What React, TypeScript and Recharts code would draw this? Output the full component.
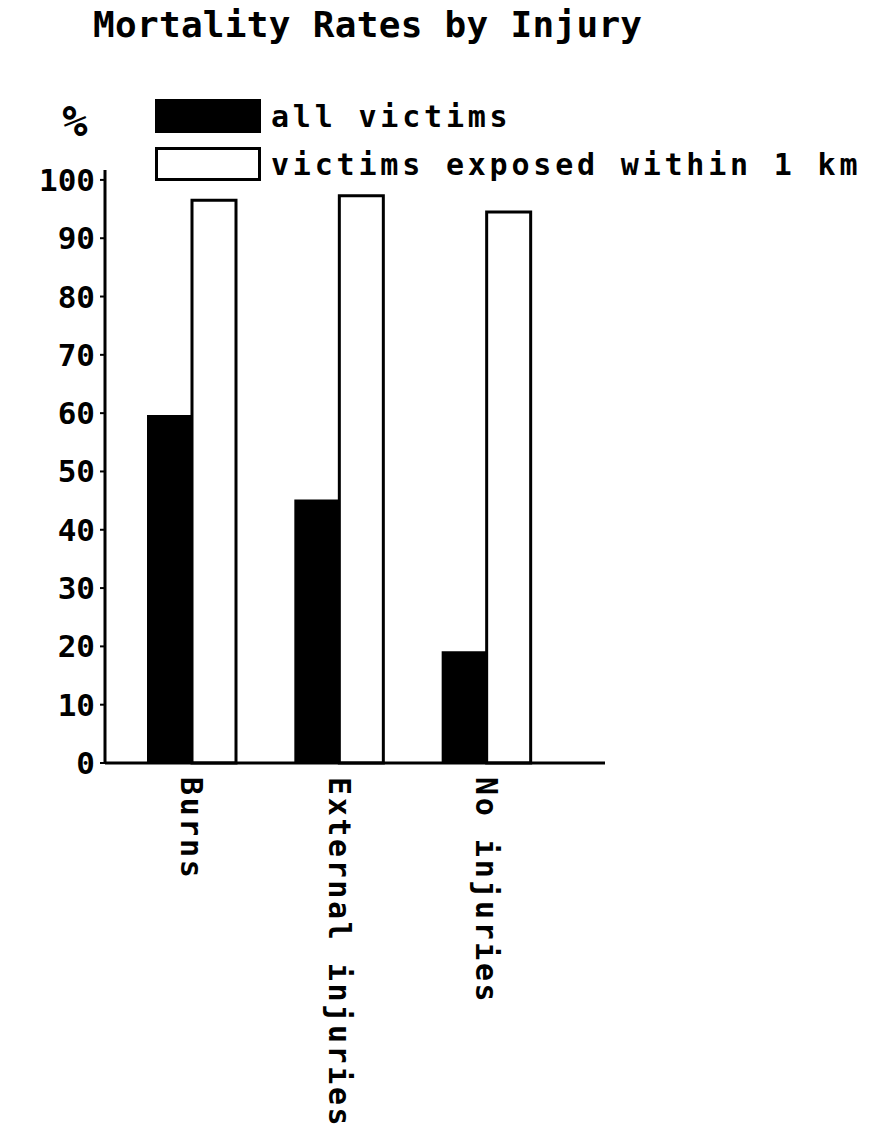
import React from "react";
import { BarChart, Bar, XAxis, YAxis, Legend } from "recharts";

const injuries = ["Burns", "External injuries", "No injuries"];
const allVictims = [59.5, 45, 19];
const within1km = [96.5, 97.3, 94.5];
const yTicks = [0, 10, 20, 30, 40, 50, 60, 70, 80, 90, 100];

const data = injuries.map((name, i) => ({
  name,
  all: allVictims[i],
  near: within1km[i],
}));

const FONT = "'DejaVu Sans Mono', monospace";

function RotatedTick({ x, y, payload }: any) {
  return (
    <text
      x={x}
      y={y + 6}
      transform={`rotate(90, ${x}, ${y + 6})`}
      textAnchor="start"
      dominantBaseline="central"
      fontFamily={FONT}
      fontWeight="bold"
      fontSize={30}
      letterSpacing={2.6}
      fill="#000"
    >
      {payload.value}
    </text>
  );
}

function PercentLabel({ viewBox }: any) {
  return (
    <text
      x={viewBox.x + 75}
      y={viewBox.y - 34}
      textAnchor="middle"
      fontFamily={FONT}
      fontWeight="bold"
      fontStyle="italic"
      fontSize={42}
      fill="#000"
    >
      %
    </text>
  );
}

function LegendBoxes() {
  const items = [
    { label: "all victims", fill: "#000" },
    { label: "victims exposed within 1 km", fill: "#fff" },
  ];
  return (
    <div style={{ fontFamily: FONT, fontWeight: "bold", fontSize: 30, letterSpacing: 3.8 }}>
      {items.map((it) => (
        <div
          key={it.label}
          style={{ display: "flex", alignItems: "center", height: 48, whiteSpace: "nowrap" }}
        >
          <div
            style={{
              width: 100,
              height: 28,
              background: it.fill,
              border: "3px solid #000",
              marginRight: 10,
            }}
          />
          <span>{it.label}</span>
        </div>
      ))}
    </div>
  );
}

export default function App() {
  return (
    <div style={{ position: "absolute", left: 0, top: 0, width: 871, height: 1144, background: "#fff" }}>
      <div
        style={{
          position: "absolute",
          left: 93,
          top: 4,
          fontFamily: FONT,
          fontWeight: "bold",
          fontSize: 36,
          letterSpacing: 0.3,
          whiteSpace: "nowrap",
        }}
      >
        Mortality Rates by Injury
      </div>
      <BarChart
        width={871}
        height={1144}
        data={data}
        margin={{ top: 170, right: 266, left: 0, bottom: 0 }}
        barCategoryGap={30}
        barGap={0}
      >
        <XAxis
          dataKey="name"
          height={381}
          axisLine={{ stroke: "#000", strokeWidth: 3 }}
          tickLine={false}
          interval={0}
          padding={{ left: 13, right: 45 }}
          tick={<RotatedTick />}
        />
        <YAxis
          width={105}
          domain={[0, 101.7]}
          ticks={yTicks}
          interval={0}
          axisLine={{ stroke: "#000", strokeWidth: 3 }}
          tickLine={{ stroke: "#000", strokeWidth: 2 }}
          tickSize={5}
          tickMargin={5}
          tick={{ fontFamily: FONT, fontWeight: "bold", fontSize: 31, fill: "#000" }}
          label={<PercentLabel />}
        />
        <Legend
          layout="horizontal"
          verticalAlign="middle"
          align="center"
          content={<LegendBoxes />}
          wrapperStyle={{ position: "absolute", top: 92, left: 155, width: 716 }}
        />
        <Bar dataKey="all" fill="#000" stroke="#000" strokeWidth={2} isAnimationActive={false} />
        <Bar dataKey="near" fill="#fff" stroke="#000" strokeWidth={3} isAnimationActive={false} />
      </BarChart>
    </div>
  );
}
